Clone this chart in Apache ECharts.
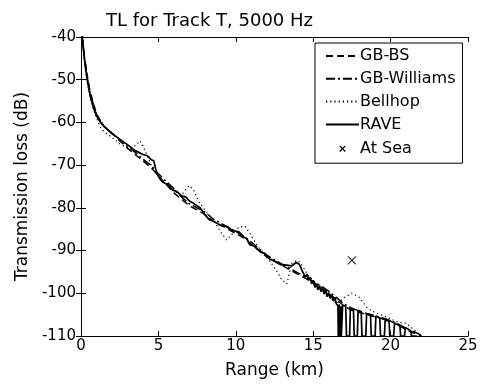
<!DOCTYPE html>
<html><head><meta charset="utf-8">
<script src="https://cdn.jsdelivr.net/npm/echarts@6/dist/echarts.min.js"></script>
<style>html,body{margin:0;padding:0;background:#fff}#c{width:484px;height:385px}</style>
</head><body><div id="c"></div>
<script>
const xTicks = [0, 5, 10, 15, 20, 25];
const yTicks = [-110, -100, -90, -80, -70, -60, -50, -40];

const raveR = [0.05,0.1,0.2,0.3,0.4,0.5,0.6,0.8,1.0,1.2,1.5,1.8,2.0,2.5,3.0,3.5,4.0,4.3,4.5,4.7,4.8,4.9,5.1,5.3,5.6,5.9,6.2,6.5,6.8,7.0,7.3,7.7,8.0,8.3,8.6,9.0,9.4,9.8,10.2,10.5,10.7,10.9,11.2,11.6,11.9,12.2,12.6,12.9,13.3,13.6,13.9,14.1,14.3,14.5,14.6,14.7,14.8,14.9,15.0,15.1,15.2,15.3,15.4,15.5,15.6,15.7,15.8,15.9,16.0,16.1,16.2,16.3,16.4,16.5,16.6,16.62,16.68,16.72,16.78,16.82,16.88,16.9,17.1,17.15,17.35,17.4,17.6,17.65,17.85,17.9,18.1,18.15,18.4,18.45,18.7,18.75,19.0,19.05,19.3,19.35,19.6,19.65,19.9,19.95,20.2,20.25,20.6,20.65,20.9,20.95,21.3,21.35,21.7];
const raveTL = [-38,-41,-44.5,-47.5,-50,-52,-53.8,-56.5,-58.4,-59.7,-61,-61.9,-62.6,-63.9,-65.2,-66.6,-67.5,-67.8,-68.6,-69,-70.5,-72,-73.2,-74,-74.6,-75.8,-76.2,-77.2,-77.5,-78.4,-79,-80,-81.6,-82.8,-83.2,-84.1,-84.3,-85.3,-85.6,-86.8,-87.2,-88.6,-89,-90.3,-90.8,-92,-92.6,-93.3,-93.4,-93.6,-92.8,-93.2,-94.8,-96.2,-95.5,-97,-96.2,-97.8,-97,-98.6,-97.8,-99.2,-98.2,-99.6,-98.8,-100.2,-99.2,-100.8,-99.8,-101.2,-100.4,-101.8,-101,-102.5,-103,-110,-102.6,-110,-103,-110,-110,-102.8,-103,-110,-110,-103.5,-103.8,-110,-110,-104,-104.3,-110,-110,-104.8,-105,-110,-110,-105.3,-105.8,-110,-110,-106.2,-106.6,-110,-110,-107,-107.6,-110,-110,-108,-108.8,-110,-110];

const gbbsR = [0.05,0.2,0.4,0.6,1.0,1.5,2.0,2.5,3.0,3.5,4.0,4.5,5.0,5.5,6.0,6.5,7.0,7.5,8.0,8.5,9.0,9.5,10.0,10.5,11.0,11.5,12.0,12.5,13.0,13.5,14.0,14.5,15.0,15.5,16.0,16.5,17.0,17.5,18.0,18.5,19.0,19.5,20.0,20.5,21.0,21.5,22.0];
const gbbsTL = [-38,-44,-49,-53,-58,-61,-62.5,-64.3,-66,-67.5,-69,-70.5,-72.5,-74.5,-76.5,-78,-79.5,-80.5,-81.5,-83,-84,-85,-86,-87,-88.5,-90,-91.5,-92.5,-93.5,-94.5,-95.5,-96.5,-97.5,-98.5,-100,-101.5,-103,-104,-104.5,-105,-105.5,-106,-106.5,-107.5,-108.5,-109.3,-110];

const gbwR = [0.05,0.2,0.4,0.6,1.0,1.5,2.0,2.5,3.0,3.5,4.0,4.5,5.0,5.5,6.0,6.5,7.0,7.5,8.0,8.5,9.0,9.5,10.0,10.5,11.0,11.5,12.0,12.5,13.0,13.5,14.0,14.5,15.0,15.5,16.0,16.5,17.0,17.5,18.0,18.5,19.0,19.5,20.0,20.5,21.0,21.5,22.0];
const gbwTL = [-38,-44.2,-49.5,-53.3,-58.2,-61,-62.6,-64,-65.6,-67,-68.6,-70,-72,-73.8,-75.5,-77.5,-79,-80,-81,-82.5,-83.5,-84.6,-85.5,-86.6,-88,-89.6,-91,-92.2,-93.2,-94.2,-95.2,-96.2,-97.2,-98.3,-99.5,-101,-102.5,-103.5,-104.2,-104.8,-105.3,-105.8,-106.4,-107.2,-108.2,-109,-109.8];

const bellR = [0.05,0.2,0.4,0.6,0.8,1.0,1.3,1.6,2.0,2.5,3.0,3.5,3.8,4.0,4.3,4.6,5.0,5.5,6.0,6.5,6.8,7.0,7.3,7.6,8.0,8.5,9.0,9.4,9.8,10.2,10.6,11.0,11.4,11.8,12.2,12.6,13.0,13.3,13.6,14.0,14.3,14.7,15.0,15.5,16.0,16.5,17.0,17.5,18.0,18.5,19.0,19.5,20.0,20.5,21.0,21.5,22.0];
const bellTL = [-38,-45,-50.5,-54.5,-57,-59,-61.5,-62.5,-63.5,-65,-66,-65.5,-64.3,-65.5,-68,-70.5,-72.5,-74,-76,-77,-75.5,-74.8,-76,-78.5,-80.5,-82.5,-85.5,-87.5,-86,-84.5,-84.3,-86.5,-89,-90.5,-92.5,-94.5,-97,-97.8,-93,-92.3,-93.5,-96,-97,-98.5,-100.5,-102.5,-101,-100,-101,-103.5,-104.5,-105.2,-106,-106.8,-107,-108.5,-110];

const seaR = [17.5];
const seaTL = [-92.3];

const names = ['GB-BS', 'GB-Williams', 'Bellhop', 'RAVE', 'At Sea'];
const xSym = 'path://M-6,-6L-6,-6M0,0L8,8M8,0L0,8M14,14L14,14';

function pairs(r, v) { return r.map((x, i) => [x, v[i]]); }

const font = 'DejaVu Sans, sans-serif';
const chart = echarts.init(document.getElementById('c'));
const axisLine = { show: true, lineStyle: { color: '#000', width: 1 } };
const tick = { inside: true, length: 5, lineStyle: { color: '#000' } };
chart.setOption({
  animation: false,
  backgroundColor: '#fff',
  title: { text: 'TL for Track T, 5000 Hz', left: 101, top: 7,
    textStyle: { fontFamily: font, fontSize: 18, fontWeight: 'normal', color: '#000' } },
  grid: { left: 81, right: 16, top: 37, bottom: 49 },
  legend: {
    orient: 'vertical', left: 315, top: 43,
    data: names.slice(0, 4).concat([{ name: 'At Sea', icon: xSym,
      itemStyle: { opacity: 1, color: 'none', borderColor: '#000', borderWidth: 1.3 } }]),
    backgroundColor: '#fff', borderColor: '#000', borderWidth: 1,
    padding: [5, 7, 5, 10], itemGap: 6.8, itemWidth: 33, itemHeight: 14,
    itemStyle: { opacity: 0 },
    textStyle: { fontFamily: font, fontSize: 16, color: '#000', padding: [0, 0, 0, -4] }
  },
  xAxis: [
    { type: 'value', min: 0, max: 25, interval: 5, name: 'Range (km)', nameLocation: 'middle', nameGap: 26,
      nameTextStyle: { fontFamily: font, fontSize: 17, color: '#000' },
      axisLine, axisTick: tick,
      axisLabel: { fontFamily: font, fontSize: 15, color: '#000', margin: 3 }, splitLine: { show: false } },
    { type: 'value', min: 0, max: 25, interval: 5, position: 'top',
      axisLine, axisTick: tick, axisLabel: { show: false }, splitLine: { show: false } }
  ],
  yAxis: [
    { type: 'value', min: -110, max: -40, interval: 10, name: 'Transmission loss (dB)', nameLocation: 'middle', nameGap: 48,
      nameTextStyle: { fontFamily: font, fontSize: 17, color: '#000' },
      axisLine, axisTick: tick,
      axisLabel: { fontFamily: font, fontSize: 15, color: '#000', margin: 5 }, splitLine: { show: false } },
    { type: 'value', min: -110, max: -40, interval: 10, position: 'right',
      axisLine, axisTick: tick, axisLabel: { show: false }, splitLine: { show: false } }
  ],
  series: [
    { name: 'GB-BS', type: 'line', data: pairs(gbbsR, gbbsTL), symbol: 'none', color: '#000',
      lineStyle: { color: '#000', width: 1.5, type: [7, 4] } },
    { name: 'GB-Williams', type: 'line', data: pairs(gbwR, gbwTL), symbol: 'none', color: '#000',
      lineStyle: { color: '#000', width: 1.5, type: [9, 3, 2, 3] } },
    { name: 'Bellhop', type: 'line', data: pairs(bellR, bellTL), symbol: 'none', color: '#000',
      lineStyle: { color: '#000', width: 1.2, type: [1.2, 3] } },
    { name: 'RAVE', type: 'line', data: pairs(raveR, raveTL), symbol: 'none', color: '#000',
      lineStyle: { color: '#000', width: 1.7, type: 'solid' } },
    { name: 'At Sea', type: 'scatter', data: pairs(seaR, seaTL), symbol: xSym, symbolSize: 20,
      itemStyle: { color: 'none', borderColor: '#000', borderWidth: 1.3 } }
  ]
});
</script></body></html>
